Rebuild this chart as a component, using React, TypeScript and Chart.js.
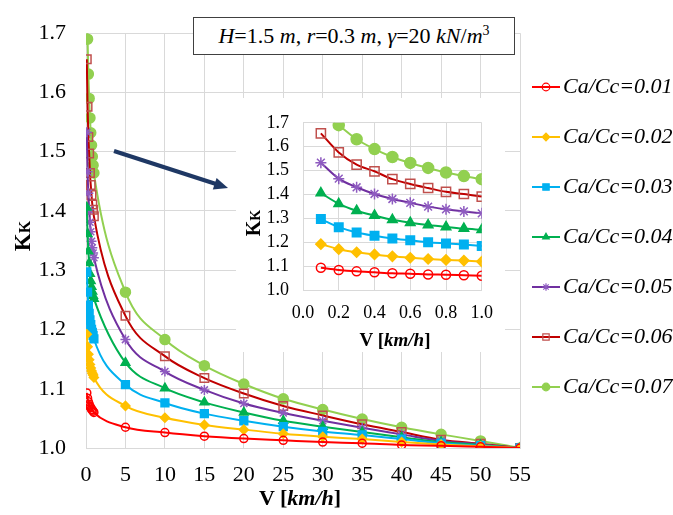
import React, { useEffect, useRef } from "react";
import { Chart, registerables } from "chart.js";
import { drawPoint } from "chart.js/helpers";

Chart.register(...registerables);

// ---------- data ----------
const V = [0.1, 0.2, 0.3, 0.4, 0.5, 0.6, 0.7, 0.8, 0.9, 1.0, 5, 10, 15, 20, 25, 30, 35, 40, 45, 50, 55];

const K001 = [1.093, 1.084, 1.078, 1.074, 1.070, 1.068, 1.065, 1.064, 1.062, 1.060, 1.035, 1.026, 1.020, 1.016, 1.013, 1.010, 1.008, 1.005, 1.004, 1.002, 1.000];
const K002 = [1.192, 1.171, 1.158, 1.149, 1.141, 1.135, 1.130, 1.126, 1.123, 1.119, 1.071, 1.051, 1.039, 1.031, 1.024, 1.019, 1.015, 1.010, 1.006, 1.003, 1.000];
const K003 = [1.297, 1.263, 1.241, 1.227, 1.216, 1.208, 1.200, 1.195, 1.190, 1.184, 1.107, 1.076, 1.058, 1.046, 1.036, 1.028, 1.022, 1.015, 1.008, 1.004, 1.000];
const K004 = [1.406, 1.361, 1.332, 1.312, 1.294, 1.282, 1.272, 1.264, 1.257, 1.252, 1.144, 1.101, 1.077, 1.060, 1.046, 1.036, 1.027, 1.018, 1.010, 1.005, 1.000];
const K005 = [1.533, 1.466, 1.430, 1.402, 1.381, 1.365, 1.349, 1.338, 1.329, 1.321, 1.183, 1.129, 1.098, 1.075, 1.059, 1.046, 1.034, 1.023, 1.012, 1.006, 1.000];
const K006 = [1.656, 1.576, 1.525, 1.497, 1.464, 1.444, 1.427, 1.411, 1.402, 1.391, 1.223, 1.155, 1.118, 1.092, 1.071, 1.055, 1.040, 1.027, 1.014, 1.007, 1.000];
const K007 = [1.780, 1.690, 1.631, 1.590, 1.557, 1.532, 1.511, 1.492, 1.477, 1.464, 1.263, 1.183, 1.139, 1.108, 1.083, 1.065, 1.049, 1.035, 1.023, 1.012, 1.000];

const LABELS = ["Ca/Cc=0.01", "Ca/Cc=0.02", "Ca/Cc=0.03", "Ca/Cc=0.04", "Ca/Cc=0.05", "Ca/Cc=0.06", "Ca/Cc=0.07"];
const VALUES = [K001, K002, K003, K004, K005, K006, K007];
// number of leading points (V <= 1.0) shown in the inset
const INSET_COUNT = 10;
// series 0.07 starts above the inset's range at V = 0.1
const INSET_SKIP = [0, 0, 0, 0, 0, 0, 1];

const MAIN_X_TICKS = [0, 55, 5];
const MAIN_Y_TICKS = [1.0, 1.7, 0.1];
const INSET_X_TICKS = [0, 1.0, 0.2];

// ---------- styles ----------
const STYLES = [
  { line: "#ff0000", pb: "#ff0000", pf: "rgba(0,0,0,0)", ps: "circle", r: 4, ri: 4.5 },
  { line: "#ffc000", pb: "#ffc000", pf: "#ffc000", ps: "rectRot", r: 4.5, ri: 5 },
  { line: "#00b0f0", pb: "#00b0f0", pf: "#00b0f0", ps: "rect", r: 5.5, ri: 6 },
  { line: "#00b050", pb: "#00b050", pf: "#00b050", ps: "triangle", r: 5, ri: 5.5 },
  { line: "#7030a0", pb: "#8e5bc0", pf: "rgba(0,0,0,0)", ps: "star", r: 5, ri: 5.5 },
  { line: "#c00000", pb: "#c0504d", pf: "rgba(0,0,0,0)", ps: "rect", r: 6, ri: 6.5 },
  { line: "#92d050", pb: "#92d050", pf: "#92d050", ps: "circle", r: 5, ri: 5.5 },
];

const FONT = '"Liberation Serif", "Times New Roman", serif';
const GRID = "#d9d9d9";

function makeDatasets(inset: boolean) {
  return VALUES.map((vals, i) => {
    const st = STYLES[i];
    const pts = V.map((v, j) => ({ x: v, y: vals[j] }));
    const data = inset
      ? pts.slice(0, INSET_COUNT).map((p, j) => (j < INSET_SKIP[i] ? { x: p.x, y: null } : p))
      : pts;
    return {
      label: LABELS[i],
      data,
      borderColor: st.line,
      backgroundColor: st.pf,
      borderWidth: 2,
      pointStyle: st.ps,
      pointRadius: inset ? st.ri : st.r,
      pointBorderColor: st.pb,
      pointBackgroundColor: st.pf,
      pointBorderWidth: 1.5,
      cubicInterpolationMode: "monotone" as const,
      spanGaps: false,
    };
  });
}

const legendPlugin = {
  id: "sideLegend",
  afterDraw(chart: any) {
    const ctx = chart.ctx;
    ctx.save();
    for (let i = 0; i < LABELS.length; i++) {
      const st = STYLES[i];
      const y = 87 + i * 50;
      ctx.strokeStyle = st.line;
      ctx.lineWidth = 2;
      ctx.beginPath();
      ctx.moveTo(532, y);
      ctx.lineTo(560, y);
      ctx.stroke();
      ctx.strokeStyle = st.pb;
      ctx.fillStyle = st.pf;
      ctx.lineWidth = 1.2;
      drawPoint(ctx, { pointStyle: st.ps, rotation: 0, radius: st.ps === "rect" ? 4.5 : 3.8, borderWidth: 1.2 }, 546, y);
      ctx.fillStyle = "#000";
      ctx.font = "italic 22px " + FONT;
      ctx.textBaseline = "middle";
      ctx.textAlign = "left";
      ctx.fillText(LABELS[i], 563, y);
    }
    ctx.restore();
  },
};

function axisCfg(min: number, max: number, step: number, size: number, pad: number, fit: (s: any) => void, fmt: boolean) {
  return {
    type: "linear" as const,
    min,
    max,
    afterFit: fit,
    ticks: {
      stepSize: step,
      autoSkip: false,
      color: "#000",
      padding: pad,
      font: { family: FONT, size },
      callback: (v: any) => (fmt ? Number(v).toFixed(1) : String(v)),
    },
    grid: { color: GRID, drawTicks: false },
    border: { color: GRID },
  };
}

export default function App() {
  const mainRef = useRef<HTMLCanvasElement>(null);
  const insetRef = useRef<HTMLCanvasElement>(null);

  useEffect(() => {
    let main: Chart | null = null;
    let inset: Chart | null = null;
    let cancelled = false;

    const build = () => {
      if (cancelled) return;
      main = new Chart(mainRef.current!, {
        type: "line",
        data: { datasets: makeDatasets(false) as any },
        options: {
          animation: false,
          responsive: false,
          layout: { padding: { left: 0, top: 17, right: 153, bottom: 0 } },
          plugins: { legend: { display: false }, tooltip: { enabled: false } },
          scales: {
            x: axisCfg(MAIN_X_TICKS[0], MAIN_X_TICKS[1], MAIN_X_TICKS[2], 22, 14, (s: any) => { s.height = 67; }, false),
            y: axisCfg(MAIN_Y_TICKS[0], MAIN_Y_TICKS[1], MAIN_Y_TICKS[2], 22, 20, (s: any) => { s.width = 86; }, true),
          },
        } as any,
        plugins: [legendPlugin],
      });

      inset = new Chart(insetRef.current!, {
        type: "line",
        data: { datasets: makeDatasets(true) as any },
        options: {
          animation: false,
          responsive: false,
          layout: { padding: { left: 0, top: 16, right: 15, bottom: 0 } },
          plugins: { legend: { display: false }, tooltip: { enabled: false } },
          scales: {
            x: axisCfg(INSET_X_TICKS[0], INSET_X_TICKS[1], INSET_X_TICKS[2], 18, 12, (s: any) => { s.height = 62; }, true),
            y: axisCfg(MAIN_Y_TICKS[0], MAIN_Y_TICKS[1], MAIN_Y_TICKS[2], 18, 14, (s: any) => { s.width = 67; }, true),
          },
        } as any,
      });
    };

    const fonts: any = (document as any).fonts;
    if (fonts && fonts.load) {
      Promise.all([
        fonts.load('22px "Liberation Serif"'),
        fonts.load('italic 22px "Liberation Serif"'),
        fonts.load('bold 22px "Liberation Serif"'),
      ]).then(build, build);
    } else {
      build();
    }

    return () => {
      cancelled = true;
      if (main) main.destroy();
      if (inset) inset.destroy();
    };
  }, []);

  const abs = (l: number, t: number, w: number, h: number): React.CSSProperties => ({
    position: "absolute", left: l, top: t, width: w, height: h,
  });

  return (
    <div style={{ position: "fixed", left: 0, top: 0, width: 673, height: 515, background: "#fff", fontFamily: FONT, color: "#000", overflow: "hidden" }}>
      <canvas ref={mainRef} width={673} height={515} style={abs(0, 0, 673, 515)} />
      {/* y title */}
      <div style={{ ...abs(-27, 222, 100, 28), transform: "rotate(-90deg)", textAlign: "center", fontWeight: "bold", fontSize: 23, lineHeight: "28px" }}>
        K<span style={{ fontSize: 16 }}>K</span>
      </div>
      {/* x title */}
      <div style={{ ...abs(200, 484, 200, 28), textAlign: "center", fontWeight: "bold", fontSize: 22, lineHeight: "28px" }}>
        V [<i>km/h</i>]
      </div>
      {/* annotation box */}
      <div style={{ ...abs(193, 17, 322, 38), boxSizing: "border-box", border: "1px solid #404040", background: "#fff", textAlign: "center", fontSize: 22, lineHeight: "36px", whiteSpace: "nowrap" }}>
        <i>H</i>=1.5 <i>m</i>, <i>r</i>=0.3 <i>m</i>, <i>γ</i>=20 <i>kN</i>/<i>m</i><sup style={{ fontSize: 14, verticalAlign: "8px", lineHeight: 0 }}>3</sup>
      </div>
      {/* arrow */}
      <svg width={673} height={515} style={{ position: "absolute", left: 0, top: 0, pointerEvents: "none" }}>
        <line x1={114} y1={151} x2={216} y2={184} stroke="#1f3864" strokeWidth={4} />
        <polygon points="228,188 212.8,189.4 216.6,178" fill="#1f3864" />
      </svg>
      {/* inset */}
      <canvas ref={insetRef} width={269} height={254} style={{ ...abs(236, 98, 269, 254), background: "#fff" }} />
      <div style={{ ...abs(203, 211, 100, 24), transform: "rotate(-90deg)", textAlign: "center", fontWeight: "bold", fontSize: 20, lineHeight: "24px" }}>
        K<span style={{ fontSize: 14 }}>K</span>
      </div>
      <div style={{ ...abs(320, 328, 150, 24), textAlign: "center", fontWeight: "bold", fontSize: 19, lineHeight: "24px" }}>
        V [<i>km/h</i>]
      </div>
    </div>
  );
}
